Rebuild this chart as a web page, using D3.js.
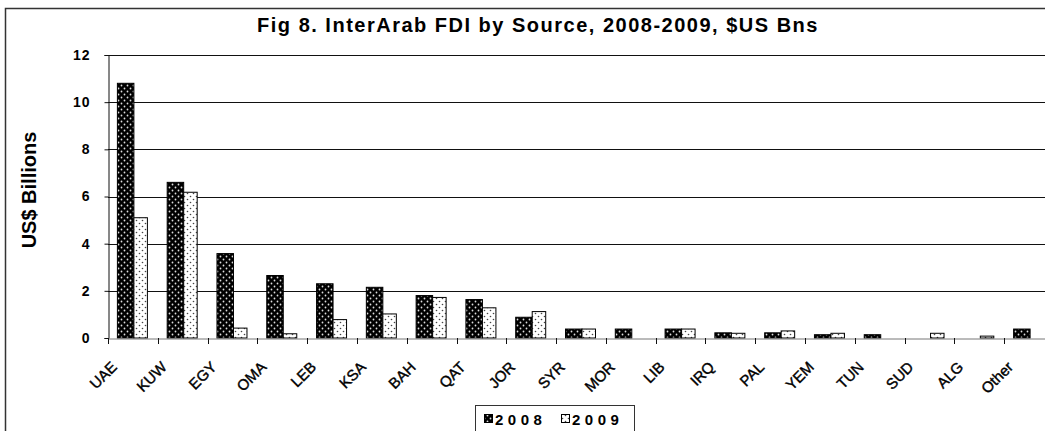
<!DOCTYPE html>
<html lang="en">

<head>
  <meta charset="UTF-8">
  <script src="https://d3js.org/d3.v7.min.js"></script>
  <style>
    html, body {
      padding: 0px;
      margin: 0px;
      background-color: white;
    }

    text {
      font-family: "Liberation Sans", Arial, sans-serif;
      font-weight: bold;
      fill: black;
    }
  </style>
</head>

<body>
  <svg id="chart" width="1045" height="431"></svg>

  <script>
    // data
    const categories = ["UAE", "KUW", "EGY", "OMA", "LEB", "KSA", "BAH", "QAT", "JOR", "SYR",
      "MOR", "LIB", "IRQ", "PAL", "YEM", "TUN", "SUD", "ALG", "Other"];
    const values2008 = [10.8, 6.6, 3.58, 2.65, 2.3, 2.15, 1.8, 1.63, 0.88, 0.38,
      0.38, 0.38, 0.22, 0.22, 0.14, 0.14, 0, 0, 0.38];
    const values2009 = [5.1, 6.18, 0.42, 0.18, 0.78, 1.02, 1.72, 1.28, 1.12, 0.38,
      0, 0.38, 0.2, 0.3, 0.2, 0, 0.2, 0.08, 0];
    const seriesNames = ["2008", "2009"];
    const yTicks = [0, 2, 4, 6, 8, 10, 12];

    const svg = d3.select("#chart");
    const margin = { top: 55, left: 108, bottom: 338, right: 1054 };

    // patterns for the two series
    const defs = svg.append("defs");
    const p1 = defs.append("pattern").attr("id", "pat2008")
      .attr("patternUnits", "userSpaceOnUse").attr("width", 6).attr("height", 6);
    p1.append("rect").attr("width", 6).attr("height", 6).attr("fill", "black");
    p1.append("circle").attr("cx", 1.5).attr("cy", 1.5).attr("r", 0.9).attr("fill", "#ddd");
    p1.append("circle").attr("cx", 4.5).attr("cy", 4.5).attr("r", 0.9).attr("fill", "#ddd");
    const p2 = defs.append("pattern").attr("id", "pat2009")
      .attr("patternUnits", "userSpaceOnUse").attr("width", 6).attr("height", 6);
    p2.append("rect").attr("width", 6).attr("height", 6).attr("fill", "white");
    p2.append("circle").attr("cx", 1.5).attr("cy", 1.5).attr("r", 0.8).attr("fill", "#444");
    p2.append("circle").attr("cx", 4.5).attr("cy", 4.5).attr("r", 0.8).attr("fill", "#444");

    // outer frame
    svg.append("rect")
      .attr("x", 5.5).attr("y", 8.5)
      .attr("width", 1100).attr("height", 500)
      .attr("fill", "none").attr("stroke", "#333").attr("stroke-width", 1.5);

    // scales
    const x = d3.scaleBand().domain(categories).range([margin.left, margin.right]);
    const y = d3.scaleLinear().domain([0, 12]).range([margin.bottom, margin.top]);

    // gridlines
    svg.append("g")
      .selectAll("line").data(yTicks.filter(d => d > 0))
      .join("line")
      .attr("x1", margin.left).attr("x2", 1045)
      .attr("y1", d => Math.round(y(d)) + 0.5).attr("y2", d => Math.round(y(d)) + 0.5)
      .attr("stroke", "#111").attr("stroke-width", 1);

    // y axis
    const leftAxis = d3.axisLeft(y).tickValues(yTicks).tickSize(4).tickPadding(14);
    const yg = svg.append("g").attr("transform", `translate(${margin.left + 0.5}, 0)`).call(leftAxis);
    yg.select(".domain").attr("stroke", "#111");
    yg.selectAll(".tick line").attr("stroke", "#111");
    yg.selectAll("text").style("font-size", "14px").style("font-family", "Liberation Sans, Arial, sans-serif")
      .style("font-weight", "bold").attr("letter-spacing", "1px");

    // bars
    const barW = [16.5, 13.5];
    const offs = [-15.5, 1];
    [values2008, values2009].forEach((vals, s) => {
      svg.append("g")
        .selectAll("rect").data(vals.map((v, i) => ({ cat: categories[i], v: v })).filter(d => d.v > 0))
        .join("rect")
        .attr("x", d => x(d.cat) + x.bandwidth() / 2 + offs[s])
        .attr("y", d => y(d.v))
        .attr("width", barW[s])
        .attr("height", d => y(0) - y(d.v))
        .attr("fill", `url(#pat${seriesNames[s]})`)
        .attr("stroke", "black")
        .attr("stroke-width", 1);
    });

    // x axis
    const bottomAxis = d3.axisBottom(x).tickSize(0).tickFormat("");
    const xg = svg.append("g").attr("transform", `translate(0, ${Math.round(y(0)) + 0.5})`).call(bottomAxis);
    xg.select(".domain").attr("stroke", "#777");
    // tick marks between categories
    svg.append("g")
      .selectAll("line").data(categories)
      .join("line")
      .attr("x1", d => Math.round(x(d)) + 0.5).attr("x2", d => Math.round(x(d)) + 0.5)
      .attr("y1", Math.round(y(0))).attr("y2", Math.round(y(0)) + 6)
      .attr("stroke", "#111");

    // category labels
    svg.append("g")
      .selectAll("text").data(categories)
      .join("text")
      .attr("transform", d => `translate(${x(d) + x.bandwidth() / 2 - 15}, ${y(0) + 30}) rotate(-45)`)
      .attr("text-anchor", "end")
      .style("font-size", "15px")
      .style("font-weight", "normal")
      .attr("stroke", "black").attr("stroke-width", 0.4)
      .text(d => d);

    // title
    svg.append("text")
      .attr("x", 538).attr("y", 32)
      .attr("text-anchor", "middle")
      .attr("letter-spacing", "1.5px")
      .style("font-size", "20px")
      .text("Fig 8. InterArab FDI by Source, 2008-2009, $US Bns");

    // y axis title
    svg.append("text")
      .attr("transform", `translate(36, 190) rotate(-90)`)
      .attr("text-anchor", "middle")
      .style("font-size", "20px")
      .text("US$ Billions");

    // legend
    const legend = svg.append("g");
    legend.append("rect")
      .attr("x", 475.5).attr("y", 405.5).attr("width", 159).attr("height", 40)
      .attr("fill", "white").attr("stroke", "#333").attr("stroke-width", 1);
    const legX = [484, 561];
    seriesNames.forEach((n, i) => {
      legend.append("rect")
        .attr("x", legX[i] + 0.5).attr("y", 414.5).attr("width", 8).attr("height", 8)
        .attr("fill", `url(#pat${n})`).attr("stroke", "black");
      legend.append("text")
        .attr("x", legX[i] + 11).attr("y", 425)
        .attr("letter-spacing", "4.5px")
        .style("font-size", "15px")
        .text(n);
    });
  </script>
</body>

</html>
